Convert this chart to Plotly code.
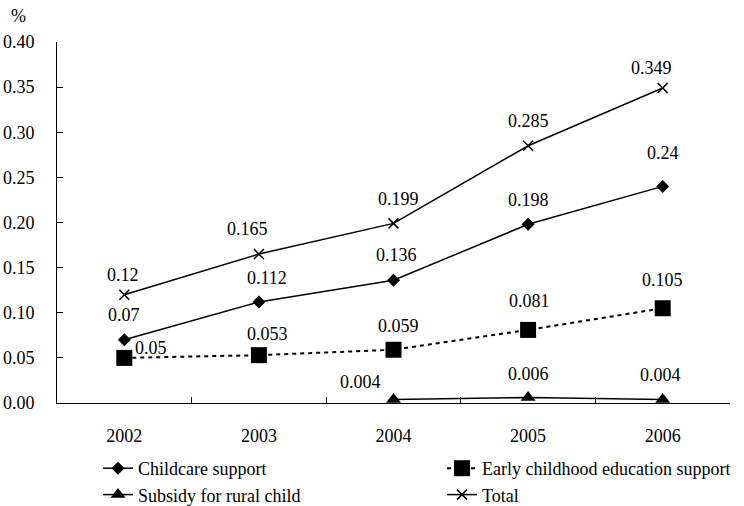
import plotly.graph_objects as go

years = ["2002", "2003", "2004", "2005", "2006"]
childcare = [0.07, 0.112, 0.136, 0.198, 0.24]
early_edu = [0.05, 0.053, 0.059, 0.081, 0.105]
rural = [None, None, 0.004, 0.006, 0.004]
total = [0.12, 0.165, 0.199, 0.285, 0.349]
y_ticks = [0.0, 0.05, 0.10, 0.15, 0.20, 0.25, 0.30, 0.35, 0.40]

FONT = "Times New Roman, Liberation Serif, DejaVu Serif, serif"

fig = go.Figure()
fig.add_trace(go.Scatter(
    x=years, y=childcare, name="Childcare support", mode="lines+markers",
    line=dict(color="black", width=1.5), legendgroup="a",
    marker=dict(symbol="diamond", size=10, color="black"), legend="legend"))
fig.add_trace(go.Scatter(
    x=years, y=early_edu, name="Early childhood education support", mode="lines+markers",
    line=dict(color="black", width=2, dash="4px,4px"), legendgroup="b",
    marker=dict(symbol="square", size=16, color="black"), legend="legend2"))
fig.add_trace(go.Scatter(
    x=years, y=rural, name="Subsidy for rural child", mode="lines+markers",
    line=dict(color="black", width=1.5), legendgroup="c",
    marker=dict(symbol="triangle-up", size=13, color="black"), legend="legend"))
fig.add_trace(go.Scatter(
    x=years, y=total, name="Total", mode="lines+markers",
    line=dict(color="black", width=1.5), legendgroup="d",
    marker=dict(symbol="x-thin", size=10, color="black",
                line=dict(color="black", width=1.5)), legend="legend2"))

# data labels (offsets in px)
label_sets = [
    (childcare, [(0, 25), (8, 24), (3, 25), (0, 24), (0, 33)]),
    (early_edu, [(27, 10), (9, 21), (5, 24), (1, 29), (0, 28)]),
    (rural, [None, None, (-33, 17), (0, 24), (-2, 24)]),
    (total, [(-1, 20), (-11, 25), (5, 24), (0, 25), (-11, 20)]),
]
for vals, offs in label_sets:
    for i, (v, off) in enumerate(zip(vals, offs)):
        if v is None:
            continue
        fig.add_annotation(x=i, y=v, text=f"{v:g}", showarrow=False,
                           xshift=off[0], yshift=off[1],
                           font=dict(family=FONT, size=18, color="black"))

fig.add_annotation(xref="paper", yref="paper", x=0, y=1, text="%",
                   xshift=-48, yshift=38, showarrow=False,
                   font=dict(family=FONT, size=18, color="black"))

leg_common = dict(xref="container", yref="container", yanchor="top", xanchor="left",
                  orientation="v", traceorder="grouped", tracegroupgap=0,
                  font=dict(family=FONT, size=18, color="black"),
                  bgcolor="rgba(0,0,0,0)")

fig.update_layout(
    width=744, height=506,
    margin=dict(l=57, r=14, t=42, b=103, autoexpand=False),
    paper_bgcolor="white", plot_bgcolor="white",
    font=dict(family=FONT, size=18, color="black"),
    xaxis=dict(type="category", range=[-0.5, 4.5], tickson="boundaries",
               ticks="inside", ticklen=6, tickcolor="black", showline=True,
               linecolor="black", linewidth=1, showgrid=False, zeroline=False,
               ticklabelstandoff=16, tickangle=0, tickfont=dict(family=FONT, size=18)),
    yaxis=dict(range=[0, 0.40], tickvals=y_ticks, tickformat=".2f",
               ticks="inside", ticklen=6, tickcolor="black", showline=True,
               linecolor="black", linewidth=1, showgrid=False, zeroline=False,
               ticklabelstandoff=18, tickfont=dict(family=FONT, size=18)),
    legend=dict(x=98/744, y=1 - 450/506, **leg_common),
    legend2=dict(x=442/744, y=1 - 450/506, **leg_common),
    showlegend=True,
)

fig.write_html("out.html", config={"displayModeBar": False},
               post_script="document.body.style.margin='0';")
